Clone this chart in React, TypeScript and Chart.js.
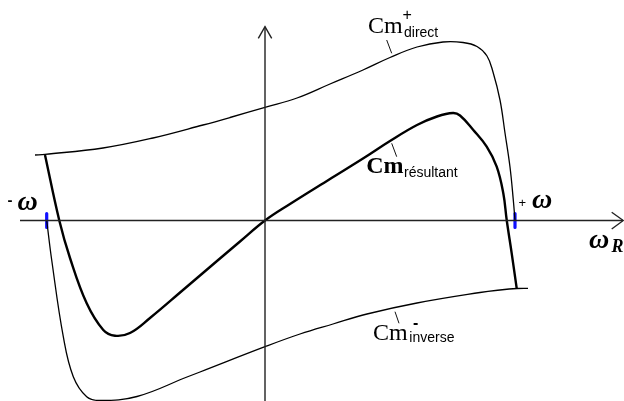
import React, { useEffect, useRef } from "react";
import { Chart, registerables } from "chart.js";

Chart.register(...registerables);

// Data units: x = rotor speed ω (arbitrary units, origin at axis crossing),
// y = torque Cm (arbitrary units).
const X_MIN = -2.65;
const X_MAX = 3.59;
const Y_MIN = -1.805;
const Y_MAX = 2.205;

// Cm+ direct
const directX = [-2.3, -2.2, -1.62, -1.12, -0.62, -0.35, 0, 0.32, 0.65, 0.98, 1.25, 1.52, 1.78, 1.98, 2.12, 2.22, 2.28, 2.35, 2.4, 2.45, 2.483, 2.5];
const directY = [0.655, 0.662, 0.725, 0.825, 0.955, 1.03, 1.132, 1.225, 1.365, 1.505, 1.63, 1.735, 1.785, 1.78, 1.74, 1.645, 1.485, 1.205, 0.875, 0.535, 0.205, 0];

// Cm résultant
const resultX = [-2.2, -2.057, -1.95, -1.783, -1.617, -1.5, -1.35, -1.15, -0.82, -0.48, -0.25, 0, 0.25, 0.65, 0.98, 1.25, 1.52, 1.72, 1.88, 1.95, 2.083, 2.217, 2.317, 2.383, 2.417, 2.467, 2.517];
const resultY = [0.655, 0, -0.375, -0.828, -1.095, -1.152, -1.125, -0.975, -0.695, -0.405, -0.21, 0, 0.165, 0.415, 0.62, 0.795, 0.955, 1.04, 1.075, 1.05, 0.905, 0.738, 0.538, 0.272, 0.005, -0.328, -0.678];

// Cm- inverse
const inverseX = [-2.183, -2.133, -2.017, -1.917, -1.783, -1.65, -1.28, -0.78, -0.65, 0, 0.35, 0.68, 1.02, 1.52, 2.15, 2.35, 2.52, 2.63];
const inverseY = [0, -0.395, -1.162, -1.562, -1.762, -1.8, -1.76, -1.565, -1.515, -1.262, -1.135, -1.035, -0.935, -0.825, -0.72, -0.695, -0.68, -0.678];

// Axes
const hAxisX = [-2.45, 3.58];
const hAxisY = [0, 0];
const vAxisX = [0, 0];
const vAxisY = [1.938, -1.805];
const hArrowX = [3.467, 3.583, 3.467];
const hArrowY = [0.082, 0, -0.085];
const vArrowX = [-0.067, 0, 0.067];
const vArrowY = [1.822, 1.938, 1.822];

// Synchronism speeds (-ω, +ω) marks
const omegaMarks = [-2.183, 2.5];
const markHalfHeight = 0.07;

// Label leader lines [x1, y1, x2, y2]
const leaderDirect = [1.217, 1.805, 1.267, 1.672];
const leaderResult = [1.267, 0.772, 1.317, 0.638];
const leaderInverse = [1.3, -0.912, 1.34, -1.028];

const pts = (xs: number[], ys: number[]) => xs.map((x, i) => ({ x, y: ys[i] }));

const labelsPlugin = {
  id: "labels",
  afterDatasetsDraw(chart: any) {
    const { ctx, scales } = chart;
    const P = (x: number, y: number) => [scales.x.getPixelForValue(x), scales.y.getPixelForValue(y)];
    const text = (t: string, x: number, y: number, font: string) => {
      const [px, py] = P(x, y);
      ctx.font = font;
      ctx.fillText(t, px, py);
    };
    ctx.save();
    ctx.fillStyle = "#000";
    ctx.textAlign = "left";
    ctx.textBaseline = "alphabetic";
    const serif = "'Liberation Serif', 'Times New Roman', serif";
    const sans = "'Liberation Sans', Arial, sans-serif";
    // Cm+ direct
    text("Cm", 1.03, 1.875, `24px ${serif}`);
    text("+", 1.375, 2.01, `16px ${sans}`);
    text("direct", 1.39, 1.835, `14px ${sans}`);
    // Cm résultant
    text("Cm", 1.012, 0.472, `bold 24px ${serif}`);
    text("résultant", 1.39, 0.432, `14px ${sans}`);
    // Cm- inverse
    text("Cm", 1.08, -1.195, `24px ${serif}`);
    text("-", 1.48, -1.075, `bold 16px ${sans}`);
    text("inverse", 1.443, -1.218, `14px ${sans}`);
    // omega labels
    text("-", -2.575, 0.16, `bold 15px ${sans}`);
    text("ω", -2.475, 0.105, `bold italic 28px ${serif}`);
    text("+", 2.535, 0.14, `13px ${sans}`);
    text("ω", 2.67, 0.125, `bold italic 28px ${serif}`);
    text("ω", 3.24, -0.278, `bold italic 28px ${serif}`);
    text("R", 3.465, -0.315, `bold italic 18px ${serif}`);
    ctx.restore();
  },
};

export default function App() {
  const ref = useRef<HTMLCanvasElement | null>(null);
  useEffect(() => {
    if (!ref.current) return;
    const thin = { borderColor: "#000", borderWidth: 1.3, pointRadius: 0, showLine: true, fill: false, tension: 0.4, clip: false as any };
    const axis = { borderColor: "#222", borderWidth: 1.4, pointRadius: 0, showLine: true, fill: false, tension: 0, clip: false as any };
    const leader = (l: number[]) => ({ ...axis, borderWidth: 1, borderColor: "#111", data: [{ x: l[0], y: l[1] }, { x: l[2], y: l[3] }] });
    const chart = new Chart(ref.current, {
      type: "scatter",
      data: {
        datasets: [
          { ...axis, data: pts(hAxisX, hAxisY) },
          { ...axis, data: pts(vAxisX, vAxisY) },
          { ...axis, data: pts(hArrowX, hArrowY) },
          { ...axis, data: pts(vArrowX, vArrowY) },
          { ...thin, data: pts(directX, directY) },
          { ...thin, data: pts(inverseX, inverseY) },
          { ...thin, borderWidth: 2.4, data: pts(resultX, resultY) },
          leader(leaderDirect),
          leader(leaderResult),
          leader(leaderInverse),
          ...omegaMarks.map((x) => ({
            ...axis,
            borderColor: "#1010ff",
            borderWidth: 3.2,
            borderCapStyle: "round" as const,
            data: [{ x, y: markHalfHeight }, { x, y: -markHalfHeight }],
          })),
        ] as any,
      },
      options: {
        responsive: false,
        animation: false,
        layout: { padding: 0 },
        plugins: { legend: { display: false }, tooltip: { enabled: false } },
        scales: {
          x: { type: "linear", min: X_MIN, max: X_MAX, display: false },
          y: { type: "linear", min: Y_MIN, max: Y_MAX, display: false },
        },
        elements: { point: { radius: 0 } },
      },
      plugins: [labelsPlugin],
    });
    return () => chart.destroy();
  }, []);
  return (
    <div style={{ position: "fixed", left: 0, top: 0, width: 624, height: 401, background: "#fff" }}>
      <canvas ref={ref} width={624} height={401} style={{ display: "block" }} />
    </div>
  );
}
